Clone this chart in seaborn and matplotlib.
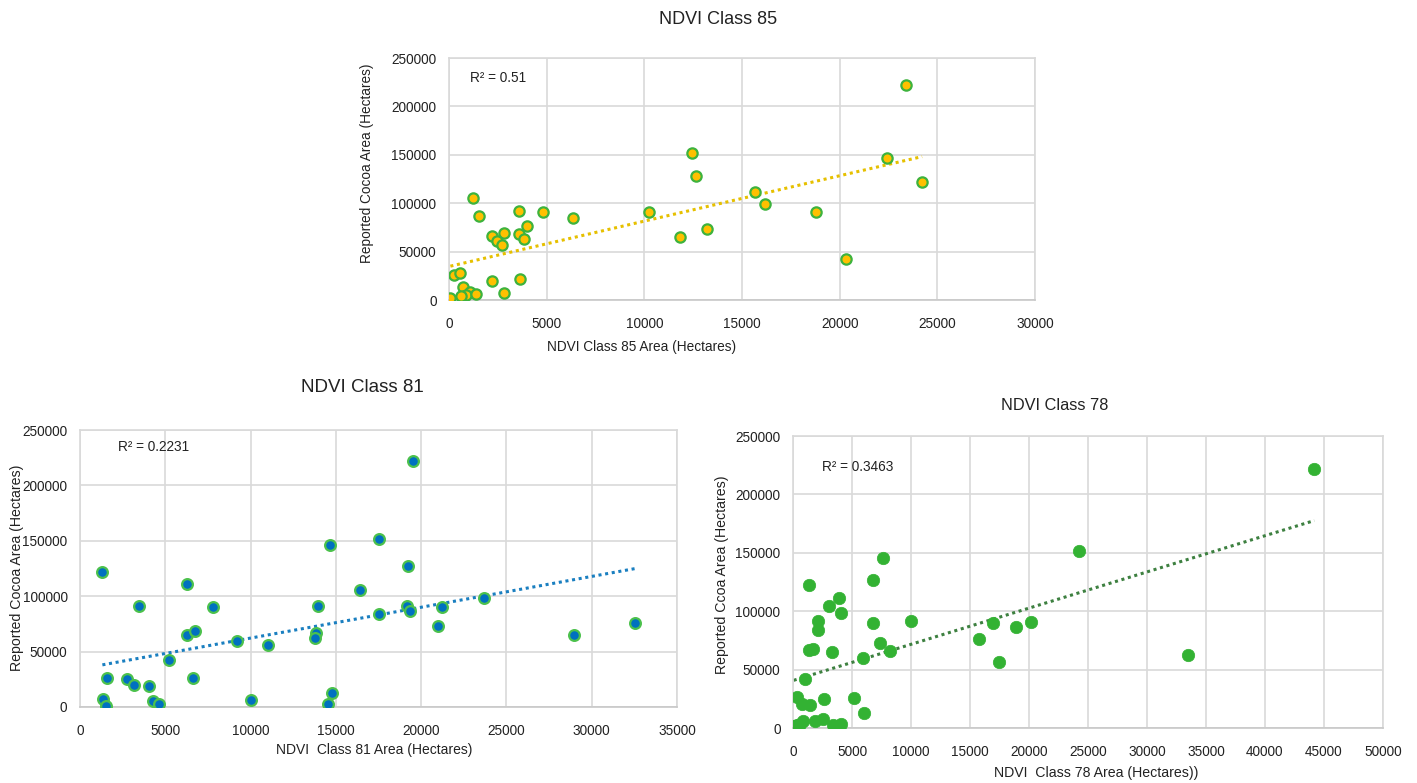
import matplotlib
matplotlib.use("Agg")
import matplotlib.pyplot as plt
import seaborn as sns
import pandas as pd
from matplotlib.ticker import MultipleLocator

# ---------------- data ----------------
ndvi85_x = [23400, 12450, 12620, 22400, 24220, 15680, 16200, 18780, 20330, 10260,
            11820, 13210, 6330, 4820, 3570, 1250, 1560, 4000, 2190, 2810,
            3590, 3850, 2460, 2690, 250, 560, 2190, 3610, 700, 1090,
            860, 600, 1400, 2830, 70]
ndvi85_y = [222000, 152000, 127700, 146300, 122000, 111800, 99000, 91200, 42600, 90500,
            65500, 73650, 84800, 90500, 91900, 105000, 87200, 76350, 66500, 68900,
            67900, 63500, 60500, 56750, 25700, 27700, 19900, 21600, 13850, 8450,
            4700, 3700, 6080, 7100, 2400]

ndvi81_x = [1311, 6302, 3444, 7809, 13935, 14678, 16400, 6302, 6732, 9178,
            11037, 13856, 13797, 5225, 1605, 2740, 3190, 4071, 6634, 1350,
            1546, 4266, 4638, 10040, 14795, 14560, 19550, 17515, 19237, 19178,
            19374, 17554, 21252, 20998, 23679, 28943, 32564]
ndvi81_y = [121400, 111200, 90750, 89850, 91350, 146340, 105200, 64600, 68500, 59500,
            56200, 67000, 62200, 42070, 26440, 24940, 20130, 18930, 25840, 7210,
            900, 5400, 2400, 6000, 12620, 3000, 222070, 151450, 127400, 90750,
            86850, 84140, 89850, 72720, 98260, 65200, 75730]

ndvi78_x = [7649, 6799, 1360, 3881, 3060, 4080, 2125, 2125, 6799, 9972,
            7366, 8216, 1360, 1700, 3286, 5949, 992, 15723, 16941, 18924,
            17423, 20180, 24266, 33503, 44182, 340, 737, 1473, 2635, 5156,
            6006, 57, 340, 567, 850, 1841, 2578, 3371, 4051]
ndvi78_y = [145700, 127140, 122280, 111400, 104860, 98570, 91430, 83710, 90000, 91430,
            73140, 66000, 67140, 67710, 65140, 59710, 42280, 76000, 90280, 86570,
            56570, 90500, 151420, 62850, 222000, 26570, 20860, 19430, 25140, 26000,
            12860, 1430, 2570, 3710, 6000, 6000, 7430, 2860, 3710]

titles = ["NDVI Class 85", "NDVI Class 81", "NDVI Class 78"]
xlabels = ["NDVI Class 85 Area (Hectares)", "NDVI  Class 81 Area (Hectares)",
           "NDVI  Class 78 Area (Hectares))"]
ylabels = ["Reported Cocoa Area (Hectares)", "Reported Cocoa Area (Hectares)",
           "Reported Ccoa Area (Hectares)"]
r2_texts = ["R\u00b2 = 0.51", "R\u00b2 = 0.2231", "R\u00b2 = 0.3463"]
x_maxes = [30000, 35000, 50000]
y_max = 250000

# ---------------- style ----------------
sns.set_style("white")
plt.rcParams["font.family"] = ["Liberation Sans", "DejaVu Sans"]

W, H = 1417, 783
fig = plt.figure(figsize=(W / 100, H / 100), dpi=100)


def axpos(l, t, r, b):
    return [l / W, 1 - b / H, (r - l) / W, (b - t) / H]


def px(x, y):
    return x / W, 1 - y / H


specs = [
    dict(box=(449, 58, 1035, 300), x=ndvi85_x, y=ndvi85_y,
         face="#FFC000", edge="#3DB33D", lw_edge=1.6, size=55,
         line="#E6C000", title_xy=(718, 20), title_fs=13,
         xl_xy=(642, 347), yl_xy=(367, 163), r2_xy=(470, 78),
         xl_fs=9.8, yl_fs=9.8),
    dict(box=(80, 430, 677, 707), x=ndvi81_x, y=ndvi81_y,
         face="#0070C0", edge="#4CC14C", lw_edge=1.6, size=60,
         line="#1A7FC0", title_xy=(362, 388), title_fs=13.5,
         xl_xy=(374, 750), yl_xy=(17, 568), r2_xy=(118, 447),
         xl_fs=10, yl_fs=10.2),
    dict(box=(793, 436, 1383, 728), x=ndvi78_x, y=ndvi78_y,
         face="#33B233", edge="#33B233", lw_edge=0.5, size=80,
         line="#3D8040", title_xy=(1055, 405), title_fs=11.8,
         xl_xy=(1096, 773), yl_xy=(722, 575), r2_xy=(822, 467),
         xl_fs=10.2, yl_fs=10.2),
]

for i, sp in enumerate(specs):
    ax = fig.add_axes(axpos(*sp["box"]))
    df = pd.DataFrame({"x": sp["x"], "y": sp["y"]})
    sns.regplot(data=df, x="x", y="y", ax=ax, ci=None,
                scatter_kws=dict(s=sp["size"], color=sp["face"],
                                 edgecolors=sp["edge"], linewidths=sp["lw_edge"],
                                 alpha=1, zorder=3),
                line_kws=dict(color=sp["line"], linestyle=(0, (1, 1.2)),
                              linewidth=2.2, zorder=2))
    ax.set_xlim(0, x_maxes[i])
    ax.set_ylim(0, y_max)
    ax.xaxis.set_major_locator(MultipleLocator(5000))
    ax.yaxis.set_major_locator(MultipleLocator(50000))
    ax.grid(True, color="#D9D9D9", linewidth=1.2)
    ax.set_axisbelow(True)
    for s in ax.spines.values():
        s.set_visible(True)
        s.set_color("#D9D9D9")
        s.set_linewidth(1.2)
    ax.spines["bottom"].set_color("#C8C8C8")
    ax.tick_params(length=0, labelsize=9.8, colors="#222222")
    ax.tick_params(axis="y", pad=9)
    ax.tick_params(axis="x", pad=12)
    ax.set_xlabel("")
    ax.set_ylabel("")
    fig.text(*px(*sp["title_xy"]), titles[i], ha="center", va="center",
             fontsize=sp["title_fs"], color="#222222")
    fig.text(*px(*sp["xl_xy"]), xlabels[i], ha="center", va="center",
             fontsize=sp["xl_fs"], color="#222222")
    fig.text(*px(*sp["yl_xy"]), ylabels[i], ha="center", va="center",
             rotation=90, fontsize=sp["yl_fs"], color="#222222")
    fig.text(*px(*sp["r2_xy"]), r2_texts[i], ha="left", va="center",
             fontsize=9.8, color="#222222")

fig.savefig("out.png", dpi=100, facecolor="white")
